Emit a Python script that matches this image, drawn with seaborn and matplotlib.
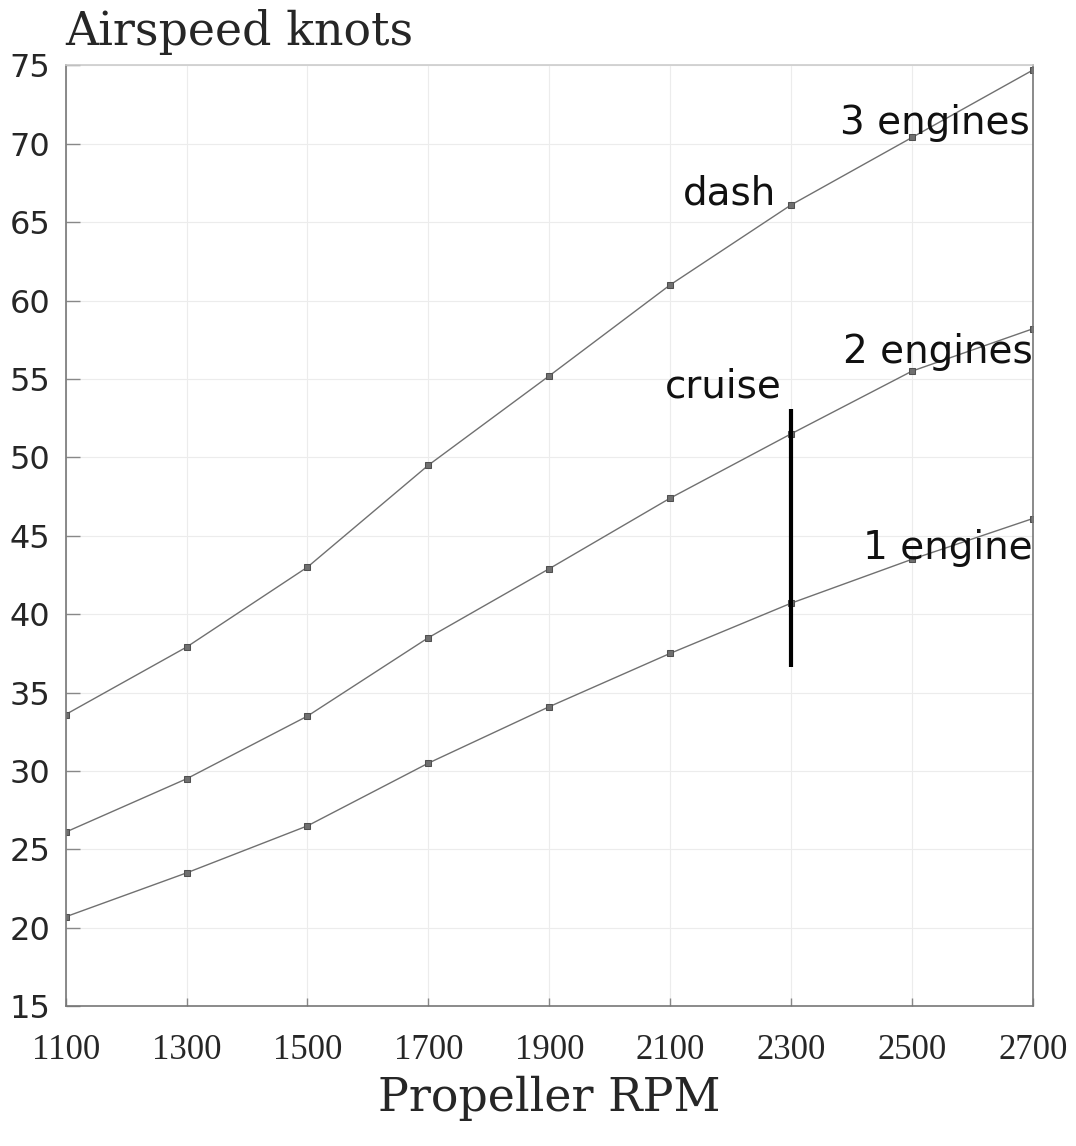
import matplotlib
matplotlib.use("Agg")
import matplotlib.pyplot as plt
import seaborn as sns
import pandas as pd

rpm = [1100, 1300, 1500, 1700, 1900, 2100, 2300, 2500, 2700]
one_engine = [20.7, 23.5, 26.5, 30.5, 34.1, 37.5, 40.7, 43.5, 46.1]
two_engines = [26.1, 29.5, 33.5, 38.5, 42.9, 47.4, 51.5, 55.5, 58.2]
three_engines = [33.6, 37.9, 43.0, 49.5, 55.2, 61.0, 66.1, 70.4, 74.7]
series_names = ["1 engine", "2 engines", "3 engines"]
cruise_rpm = 2300
cruise_range = [36.6, 53.1]
x_ticks = [1100, 1300, 1500, 1700, 1900, 2100, 2300, 2500, 2700]
y_ticks = [15, 20, 25, 30, 35, 40, 45, 50, 55, 60, 65, 70, 75]

df = pd.concat([
    pd.DataFrame({"rpm": rpm, "speed": vals, "series": name})
    for name, vals in zip(series_names, [one_engine, two_engines, three_engines])
])

sns.set_theme(style="white")
fig = plt.figure(figsize=(10.76, 11.46), dpi=100)
ax = fig.add_axes([0.061, 0.122, 0.899, 0.821])

sns.lineplot(data=df, x="rpm", y="speed", hue="series", style="series",
             palette=["#707070"] * 3, markers=["s"] * 3, dashes=False,
             markersize=5, linewidth=1.0, markeredgecolor="#505050",
             legend=False, ax=ax)

ax.plot([cruise_rpm, cruise_rpm], cruise_range, color="black", lw=3.0, solid_capstyle="butt")

ax.set_xlim(1100, 2700)
ax.set_ylim(15, 75)
ax.set_xticks(x_ticks)
ax.set_yticks(y_ticks)
ax.set_xticklabels([str(v) for v in x_ticks], family="Liberation Serif", fontsize=25)
ax.set_yticklabels([str(v) for v in y_ticks], family="DejaVu Sans", fontsize=23)
ax.tick_params(axis="y", left=True, direction="in", length=10, width=1, color="#888888", pad=11)
ax.tick_params(axis="x", bottom=True, direction="in", length=6, width=1, color="#888888", pad=20)
ax.grid(True, color="#ececec", lw=0.8)
for s in ax.spines.values():
    s.set_color("#777777")
    s.set_linewidth(1.2)
ax.spines["top"].set_color("#cccccc")

ax.set_xlabel("Propeller RPM", family="DejaVu Serif", fontsize=33, labelpad=6)
ax.set_ylabel("")
fig.text(0.061, 0.9607, "Airspeed knots", family="DejaVu Serif", fontsize=33,
         ha="left", va="baseline")

lab = dict(family="DejaVu Sans", fontsize=28, color="#111111")
ax.text(2695, 71.3, "3 engines", ha="right", va="center", **lab)
ax.text(2276, 66.8, "dash", ha="right", va="center", **lab)
ax.text(2700, 56.7, "2 engines", ha="right", va="center", **lab)
ax.text(2284, 54.5, "cruise", ha="right", va="center", **lab)
ax.text(2700, 44.2, "1 engine", ha="right", va="center", **lab)

fig.savefig("out.png", dpi=100, facecolor="white")
